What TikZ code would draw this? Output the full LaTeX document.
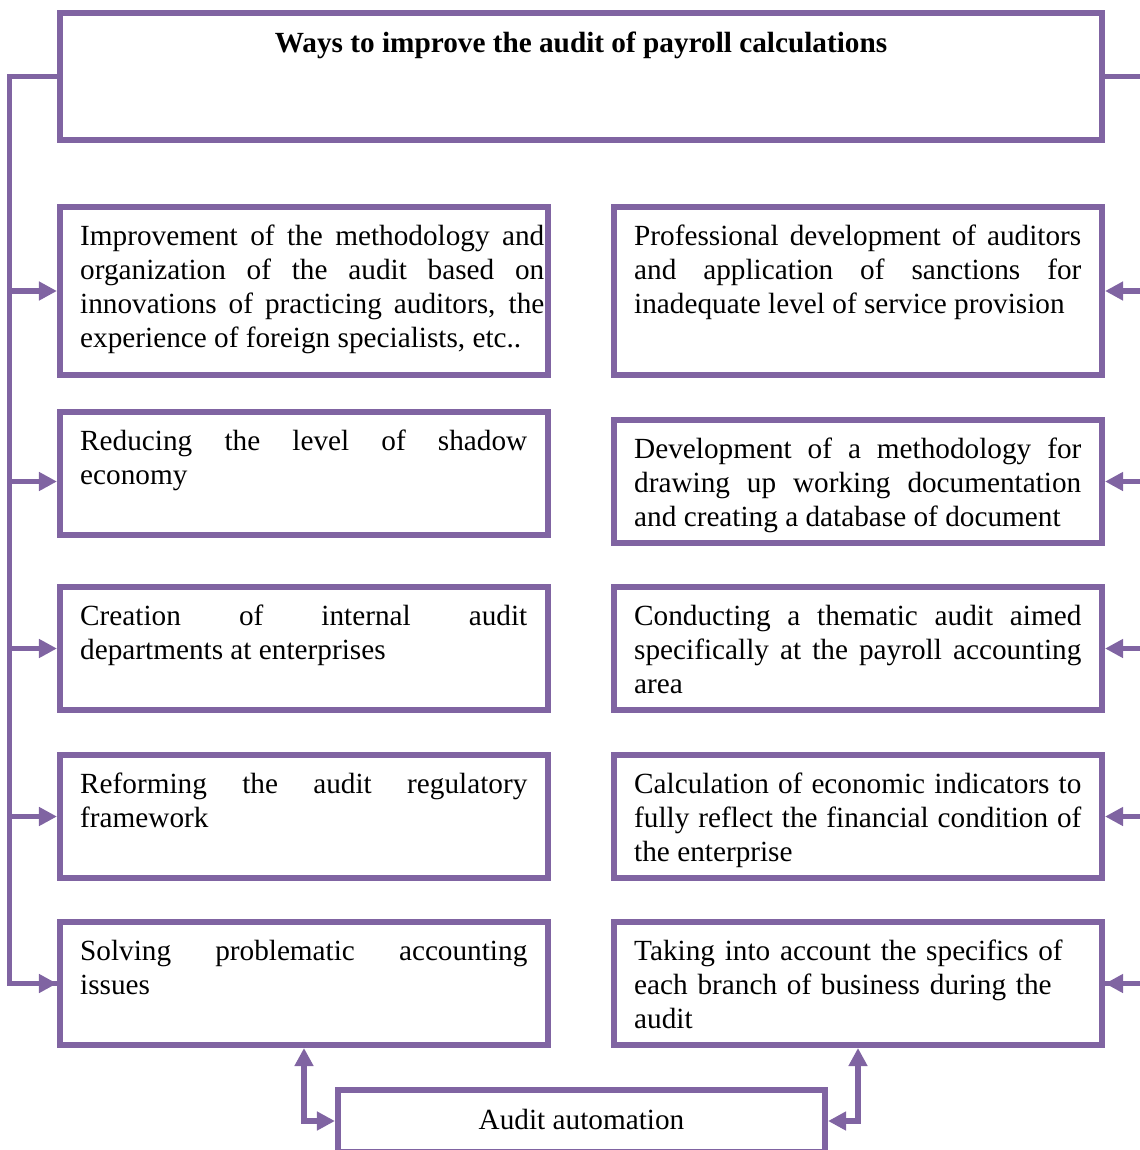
\documentclass[tikz,border=0pt]{standalone}
\usepackage{fontspec}
\setmainfont{Liberation Serif}
\usetikzlibrary{arrows.meta,calc}
\definecolor{boxpurple}{HTML}{8064A2}

\begin{document}
\begin{tikzpicture}[x=0.025cm,y=-0.025cm,>={Triangle[length=0.45cm,width=0.45cm]},
  box/.style={draw=boxpurple,line width=0.15cm,minimum width=12.2cm,minimum height=3.075cm,inner sep=0pt},
  tall/.style={minimum height=4.2cm},
  txt/.style={anchor=base west,inner sep=0pt,text width=11.175cm,align=justify,
    font=\fontsize{20.8}{24.2}\selectfont},
  link/.style={draw=boxpurple,line width=0.14cm}]
  \useasboundingbox (0,0) rectangle (1139,1150);
  % Title
  \node[box,minimum width=26.05cm,minimum height=3.175cm] (title) at (581,76.5) {};
  \node[anchor=base,inner sep=0pt,font=\fontsize{20.8}{24.2}\selectfont\bfseries] (titletxt)
    at ($(title.north)+(0,43)$) {Ways to improve the audit of payroll calculations};
  % Left column
  \node[box,tall] (l1) at (304,291) {};
  \node[box] (l2) at (304,473.5) {};
  \node[box] (l3) at (304,648.5) {};
  \node[box] (l4) at (304,816.5) {};
  \node[box] (l5) at (304,983.5) {};
  % Right column
  \node[box,tall] (r1) at (858,291) {};
  \node[box] (r2) at (858,481.5) {};
  \node[box] (r3) at (858,648.5) {};
  \node[box] (r4) at (858,816.5) {};
  \node[box] (r5) at (858,983.5) {};
  % Texts
  \node[txt,text width=11.6cm] (l1txt) at ($(l1.north west)+(23,41.5)$)
    {Improvement of the methodology and\linebreak organization of the audit based on\linebreak
     innovations of practicing auditors, the\linebreak experience of foreign specialists, etc..};
  \node[txt] (l2txt) at ($(l2.north west)+(23,41.5)$) {Reducing the level of shadow\linebreak economy};
  \node[txt] (l3txt) at ($(l3.north west)+(23,41.5)$) {Creation of internal audit\linebreak departments at enterprises};
  \node[txt] (l4txt) at ($(l4.north west)+(23,41.5)$) {Reforming the audit regulatory\linebreak framework};
  \node[txt] (l5txt) at ($(l5.north west)+(23,41.5)$) {Solving problematic accounting\linebreak issues};
  \node[txt] (r1txt) at ($(r1.north west)+(23,41.5)$)
    {Professional development of auditors\linebreak and application of sanctions for\linebreak
     inadequate level of service provision};
  \node[txt] (r2txt) at ($(r2.north west)+(23,41.5)$)
    {Development of a methodology for\linebreak drawing up working documentation\linebreak
     and creating a database of document};
  \node[txt] (r3txt) at ($(r3.north west)+(23,41.5)$)
    {Conducting a thematic audit aimed\linebreak specifically at the payroll accounting\linebreak area};
  \node[txt] (r4txt) at ($(r4.north west)+(23,41.5)$)
    {Calculation of economic indicators to\linebreak fully reflect the financial condition of\linebreak
     the enterprise};
  \node[txt,align=left] (r5txt) at ($(r5.north west)+(23,41.5)$)
    {Taking into account the specifics of\\ each branch of business during the\\ audit};
  % Bottom box
  \node[box,minimum width=12.175cm,minimum height=1.55cm,font=\fontsize{20.8}{24.2}\selectfont]
    (auto) at (581.5,1121) {\raisebox{2pt}{Audit automation}};
  % Buses
  \draw[link] (title.west) -- ++(-47.5,0) coordinate (lbus) |- (l5.west);
  \draw[link] (title.east) -- ++(41,0) coordinate (rbus) |- (r5.east);
  \foreach \i in {1,...,5} {
    \draw[link,->] (lbus |- r\i.east) -- (l\i.west |- r\i.east);
    \draw[link,->] (rbus |- r\i.east) -- (r\i.east);
  }
  \draw[link,<->] (l5.south) |- (auto.west);
  \draw[link,<->] (r5.south) |- (auto.east);
\end{tikzpicture}
\end{document}
